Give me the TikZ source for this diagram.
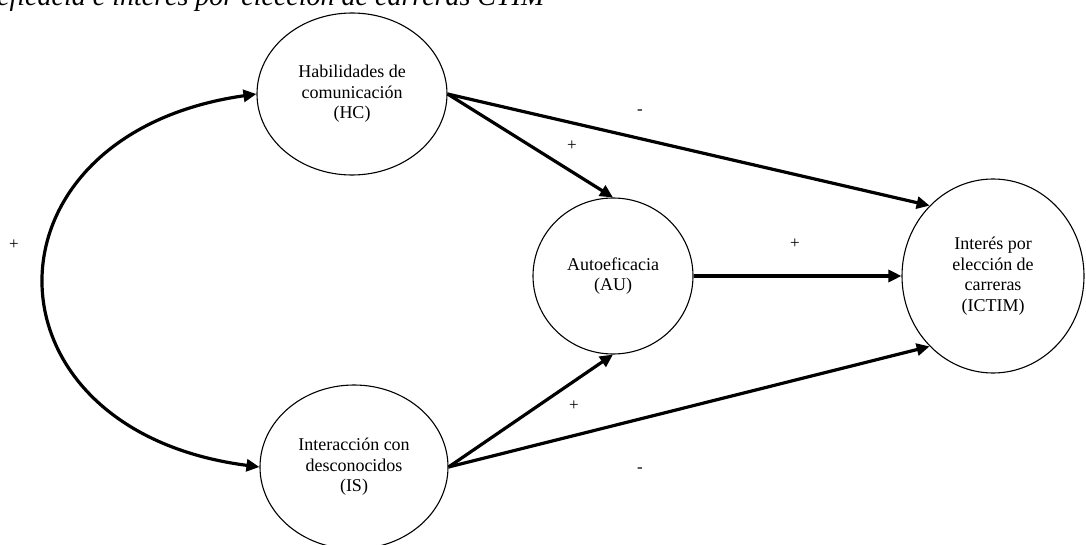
\documentclass[tikz,border=0pt]{standalone}
\usepackage{fontspec}
\setmainfont{Liberation Serif}
\usetikzlibrary{shapes.geometric,arrows.meta}
\begin{document}
\begin{tikzpicture}[x=1pt,y=-1pt,
  latent/.style={draw, ellipse, line width=1.1pt, inner sep=0pt, align=center,
    font=\fontsize{18}{20.5}\selectfont},
  tip/.tip={Triangle[length=13pt,width=12pt]},
  path/.style={line width=3.2pt, -tip},
  sign/.style={inner sep=0pt, font=\fontsize{17}{17}\selectfont}]
\useasboundingbox (0,0) rectangle (1086,545);
\node[anchor=base west, inner sep=0pt, font=\fontsize{28}{30}\selectfont\itshape] (title) at (-3,6) {eficacia e interés por elección de carreras CTIM};

\node[latent, minimum width=190pt, minimum height=162pt] (HC) at (352,94) {Habilidades de\\comunicación\\(HC)};
\node[latent, minimum width=188pt, minimum height=164pt] (IS) at (354,467) {Interacción con\\desconocidos\\(IS)};
\node[latent, minimum width=160pt, minimum height=156pt] (AU) at (613,276) {Autoeficacia\\(AU)};
\node[latent, minimum width=182pt, minimum height=194pt] (ICTIM) at (993,276) {Interés por\\elección de\\carreras\\(ICTIM)};

\draw[path] (HC.east) -- (ICTIM.132);
\draw[path] (HC.east) -- (AU.north);
\draw[path] (IS.east) -- (AU.south);
\draw[path] (IS.east) -- (ICTIM.228);
\draw[path] (AU.east) -- (ICTIM.west);
\draw[line width=3.2pt, tip-tip]
  (IS.west) .. controls (-26,430) and (-26,134) .. (HC.west);

\node[sign] (s1) at (640,112) {-};
\node[sign] (s2) at (572,146) {+};
\node[sign] (s3) at (795,244) {+};
\node[sign] (s4) at (574,406) {+};
\node[sign] (s5) at (640,470) {-};
\node[sign] (s6) at (14,245) {+};
\end{tikzpicture}
\end{document}
